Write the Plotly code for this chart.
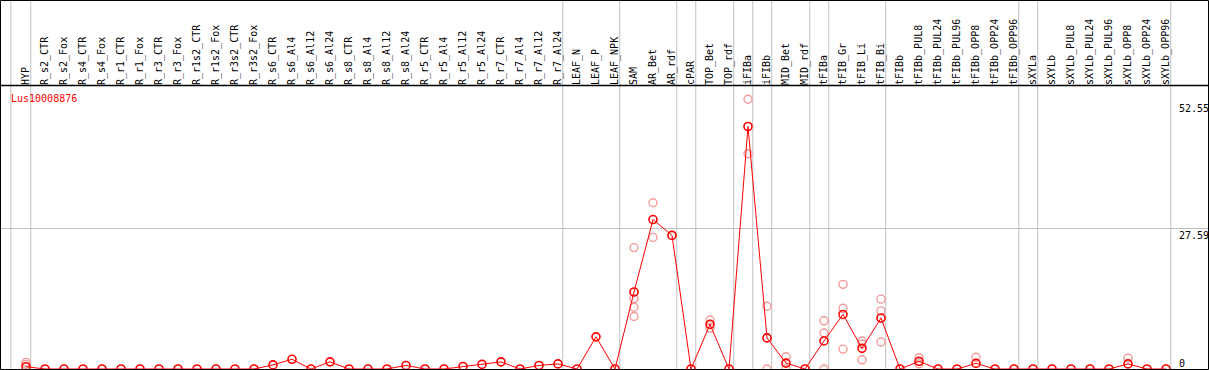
import plotly.graph_objects as go

categories = ["HYP", "R_s2_CTR", "R_s2_Fox", "R_s4_CTR", "R_s4_Fox", "R_r1_CTR", "R_r1_Fox",
              "R_r3_CTR", "R_r3_Fox", "R_r1s2_CTR", "R_r1s2_Fox", "R_r3s2_CTR", "R_r3s2_Fox",
              "R_s6_CTR", "R_s6_Al4", "R_s6_Al12", "R_s6_Al24", "R_s8_CTR", "R_s8_Al4", "R_s8_Al12",
              "R_s8_Al24", "R_r5_CTR", "R_r5_Al4", "R_r5_Al12", "R_r5_Al24", "R_r7_CTR", "R_r7_Al4",
              "R_r7_Al12", "R_r7_Al24", "LEAF_N", "LEAF_P", "LEAF_NPK", "SAM", "AR_Bet", "AR_rdf",
              "cPAR", "TOP_Bet", "TOP_rdf", "iFIBa", "iFIBb", "MID_Bet", "MID_rdf", "tFIBa",
              "tFIB_Gr", "tFIB_Li", "tFIB_Bi", "tFIBb", "tFIBb_PUL8", "tFIBb_PUL24", "tFIBb_PUL96",
              "tFIBb_OPP8", "tFIBb_OPP24", "tFIBb_OPP96", "sXYLa", "sXYLb", "sXYLb_PUL8",
              "sXYLb_PUL24", "sXYLb_PUL96", "sXYLb_OPP8", "sXYLb_OPP24", "sXYLb_OPP96"]

mean_values = [0.45, 0, 0, 0, 0, 0, 0, 0, 0, 0, 0, 0, 0,
               0.8, 1.9, 0, 1.4, 0, 0, 0, 0.7, 0, 0, 0.5, 0.9, 1.4, 0, 0.7, 1.0,
               0, 6.3, 0, 15.1, 29.3, 26.2, 0, 8.75, 0, 47.55, 6.1, 1.15, 0, 5.5,
               10.7, 4.05, 10.0, 0, 1.5, 0, 0, 1.1, 0, 0,
               0, 0, 0, 0, 0, 1.0, 0, 0]

rep_categories = ["HYP", "HYP",
                  "SAM", "SAM", "SAM", "SAM",
                  "AR_Bet", "AR_Bet", "AR_rdf",
                  "TOP_Bet", "TOP_Bet",
                  "iFIBa", "iFIBa",
                  "iFIBb", "iFIBb",
                  "MID_Bet", "MID_Bet",
                  "tFIBa", "tFIBa", "tFIBa",
                  "tFIB_Gr", "tFIB_Gr", "tFIB_Gr",
                  "tFIB_Li", "tFIB_Li", "tFIB_Li",
                  "tFIB_Bi", "tFIB_Bi", "tFIB_Bi",
                  "tFIBb_PUL8", "tFIBb_PUL8",
                  "tFIBb_OPP8", "sXYLb_OPP8"]
rep_values = [1.3, 0.9,
              23.8, 13.8, 12.1, 10.3,
              32.6, 25.8, 26.2,
              9.6, 8.0,
              52.9, 42.2,
              12.3, 0,
              2.4, 0,
              9.45, 7.05, 0,
              16.6, 11.9, 3.9,
              5.5, 1.8, 4.9,
              13.7, 11.4, 5.3,
              2.2, 1.0,
              2.3, 2.1]

gene_name = "Lus10008876"
ytick_values = [52.55, 27.59, 0]
ytick_labels = ["52.55", "27.59", "0"]
grid_y_values = [27.59]
group_ends = ["HYP", "R_r7_Al24", "LEAF_NPK", "AR_rdf", "cPAR", "TOP_rdf", "iFIBa", "iFIBb",
              "MID_rdf", "tFIBa", "tFIB_Bi", "tFIBb_OPP96", "sXYLa", "sXYLb_OPP96"]

W, H = 1209, 370
TOP = 86
MONO = "DejaVu Sans Mono"
GRID = "#c0c0c0"
RED = "#ff0000"
PINK = "#f29a9a"

fig = go.Figure()
fig.add_trace(go.Scatter(
    x=rep_categories, y=rep_values, mode="markers",
    marker=dict(symbol="circle-open", size=8, color=PINK, line=dict(width=1.4, color=PINK)),
    hoverinfo="skip", showlegend=False))
fig.add_trace(go.Scatter(
    x=categories, y=mean_values, mode="lines+markers",
    line=dict(color=RED, width=1),
    marker=dict(symbol="circle-open", size=8, color=RED, line=dict(width=1.6, color=RED)),
    showlegend=False))

idx = {c: i for i, c in enumerate(categories)}
ph = H - TOP


def py(pix):
    return (H - pix) / ph


shapes = []
shapes.append(dict(type="line", xref="x", yref="paper", x0=-0.8, x1=-0.8, y0=0, y1=py(0),
                   line=dict(color=GRID, width=1), layer="below"))
for c in group_ends:
    xv = idx[c] + 0.25
    shapes.append(dict(type="line", xref="x", yref="paper", x0=xv, x1=xv, y0=0, y1=py(0),
                       line=dict(color=GRID, width=1), layer="below"))
shapes.append(dict(type="rect", xref="paper", yref="paper", x0=0.5 / W, x1=(W - 0.5) / W,
                   y0=py(369.5), y1=py(0.5), line=dict(color="black", width=1)))
shapes.append(dict(type="line", xref="paper", yref="paper", x0=0, x1=1,
                   y0=py(85.5), y1=py(85.5), line=dict(color="black", width=1.5)))

annotations = [dict(text=gene_name, xref="paper", yref="paper", x=9 / W, y=py(91),
                    xanchor="left", yanchor="top", showarrow=False,
                    font=dict(family=MONO, size=10, color=RED))]
for v, t in zip(ytick_values, ytick_labels):
    annotations.append(dict(text=t, xref="paper", yref="y", x=1177 / W, y=v,
                            xanchor="left", yanchor="top" if v > 0 else "bottom",
                            yshift=0 if v > 0 else -2,
                            showarrow=False, font=dict(family=MONO, size=10, color="black")))

x0 = -26 / 19
y0 = -1 / 5.1
fig.update_layout(
    width=W, height=H, margin=dict(l=0, r=0, t=TOP, b=0),
    paper_bgcolor="white", plot_bgcolor="white",
    shapes=shapes, annotations=annotations,
    xaxis=dict(type="category", categoryorder="array", categoryarray=categories,
               range=[x0, x0 + W / 19], side="top", tickangle=-90,
               tickfont=dict(family=MONO, size=10, color="black"),
               showgrid=False, zeroline=False, showline=False, ticks="", fixedrange=True),
    yaxis=dict(range=[y0, y0 + ph / 5.1], tickvals=grid_y_values, showticklabels=False,
               showgrid=True, gridcolor=GRID, gridwidth=1, zeroline=False, showline=False,
               ticks="", fixedrange=True),
    hovermode=False,
)

fig.write_html("out.html", config={"displayModeBar": False},
               post_script="document.body.style.margin='0';document.body.style.overflow='hidden';")
